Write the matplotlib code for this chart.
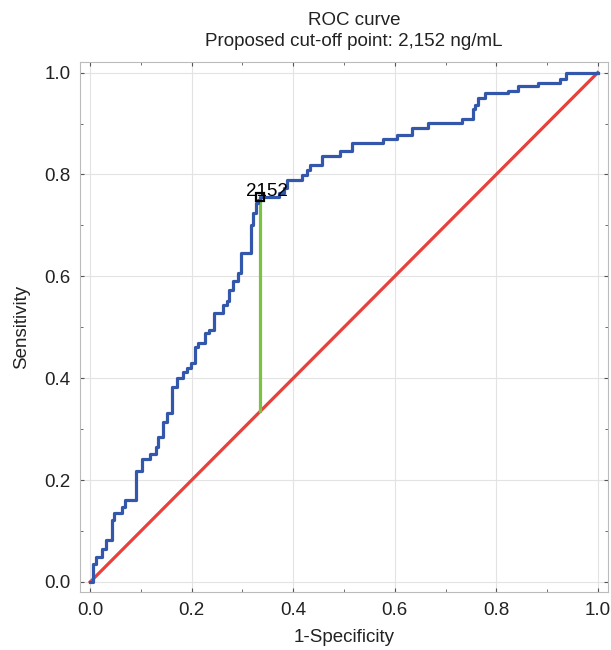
import numpy as np
import matplotlib
matplotlib.use('Agg')
import matplotlib.pyplot as plt
from matplotlib.ticker import MultipleLocator

# ROC points (top of each vertical step)
fpr = [0.0, 0.0065, 0.012, 0.023, 0.031, 0.043, 0.046, 0.062, 0.069, 0.090,
       0.102, 0.118, 0.130, 0.134, 0.143, 0.152, 0.161, 0.171, 0.183, 0.191,
       0.199, 0.207, 0.213, 0.226, 0.235, 0.243, 0.262, 0.270, 0.274, 0.282,
       0.292, 0.297, 0.316, 0.320, 0.327, 0.331, 0.335, 0.371, 0.381, 0.387,
       0.417, 0.427, 0.433, 0.456, 0.492, 0.515, 0.577, 0.604, 0.633, 0.666,
       0.732, 0.755, 0.758, 0.764, 0.778, 0.823, 0.843, 0.882, 0.925, 0.938,
       1.0]
tpr = [0.0, 0.036, 0.049, 0.064, 0.082, 0.121, 0.136, 0.147, 0.161, 0.218,
       0.241, 0.252, 0.265, 0.284, 0.315, 0.331, 0.383, 0.400, 0.413, 0.420,
       0.429, 0.462, 0.469, 0.488, 0.495, 0.528, 0.544, 0.551, 0.574, 0.590,
       0.607, 0.646, 0.701, 0.724, 0.744, 0.750, 0.755, 0.764, 0.774, 0.790,
       0.798, 0.808, 0.818, 0.836, 0.846, 0.862, 0.870, 0.878, 0.892, 0.901,
       0.909, 0.928, 0.937, 0.951, 0.959, 0.964, 0.973, 0.980, 0.987, 1.0,
       1.0]

cutoff_label = '2152'
cut_x = 0.335  # 1-specificity at the cut-off
cut_y = 0.755  # sensitivity at the cut-off

plt.rcParams['font.family'] = ['Liberation Sans', 'DejaVu Sans']
fs = 13.5

fig = plt.figure(figsize=(6.11, 6.5), dpi=100)
ax = fig.add_axes([0.131, 0.089, 0.864, 0.815])

ax.plot(fpr, tpr, drawstyle='steps-post', color='#3358ab', lw=2.3, zorder=3)
ax.plot([0, 1], [0, 1], color='#e8403a', lw=2.3, zorder=2)
ax.plot([cut_x, cut_x], [cut_x, cut_y], color='#7cc242', lw=2.3, zorder=2)
ax.plot([cut_x], [cut_y], marker='s', ms=5.5, mfc='none', mec='black', mew=1.6, zorder=4)
ax.annotate(cutoff_label, (cut_x, cut_y), xytext=(5, 1), textcoords='offset points',
            ha='center', va='baseline', fontsize=fs, color='black', zorder=5)

ax.set_xlim(-0.02, 1.02)
ax.set_ylim(-0.02, 1.02)
ax.xaxis.set_major_locator(MultipleLocator(0.2))
ax.yaxis.set_major_locator(MultipleLocator(0.2))
ax.xaxis.set_minor_locator(MultipleLocator(0.1))
ax.yaxis.set_minor_locator(MultipleLocator(0.1))
ax.xaxis.set_major_formatter(matplotlib.ticker.FormatStrFormatter('%.1f'))
ax.yaxis.set_major_formatter(matplotlib.ticker.FormatStrFormatter('%.1f'))

ax.grid(True, which='major', color='#e3e3e3', lw=0.8)
ax.set_axisbelow(True)
ax.tick_params(which='both', direction='in', top=True, right=True, colors='#555555',
               labelcolor='#222222', labelsize=fs)
ax.tick_params(which='major', length=3, pad=7)
ax.tick_params(which='minor', length=2)
for s in ax.spines.values():
    s.set_color('#bbbbbb')
    s.set_linewidth(0.8)

ax.set_xlabel('1-Specificity', fontsize=fs, color='#222222', labelpad=7)
ax.set_ylabel('Sensitivity', fontsize=fs, color='#222222', labelpad=10)
ax.set_title('ROC curve\nProposed cut-off point: 2,152 ng/mL', fontsize=fs,
             color='#222222', x=0.519, pad=12, linespacing=1.3)

fig.savefig('out.png', dpi=100)
